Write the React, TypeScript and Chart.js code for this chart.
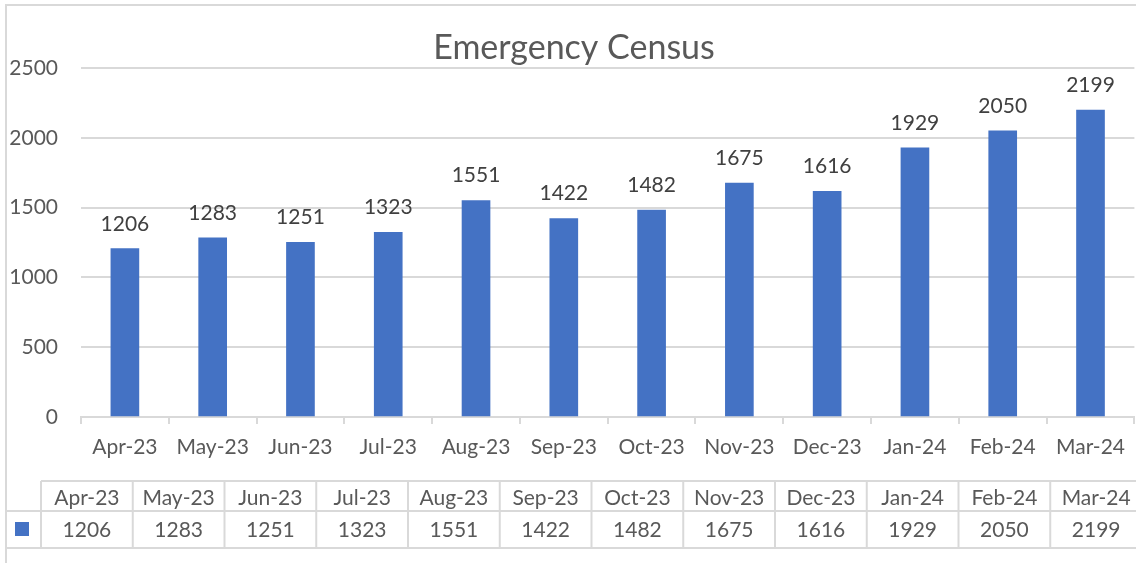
import React, { useEffect, useRef } from "react";
import { Chart, registerables } from "chart.js";

Chart.register(...registerables);

const categories = ["Apr-23", "May-23", "Jun-23", "Jul-23", "Aug-23", "Sep-23", "Oct-23", "Nov-23", "Dec-23", "Jan-24", "Feb-24", "Mar-24"];
const censusValues = [1206, 1283, 1251, 1323, 1551, 1422, 1482, 1675, 1616, 1929, 2050, 2199];
const yTicks = [0, 500, 1000, 1500, 2000, 2500];
const chartTitle = "Emergency Census";

const FONT = "Lato";
const TEXT = "#595959";
const LABEL = "#404040";
const GRID = "#d9d9d9";
const BAR = "#4472C4";
const FS = 21;

const framePlugin = {
  id: "frame",
  beforeDraw(chart: any) {
    const ctx = chart.ctx;
    ctx.save();
    ctx.fillStyle = "#ffffff";
    ctx.fillRect(0, 0, chart.width, chart.height);
    ctx.strokeStyle = GRID;
    ctx.lineWidth = 2;
    ctx.strokeRect(6, 5, chart.width + 40, chart.height + 40);
    ctx.restore();
  },
};

const titlePlugin = {
  id: "excelTitle",
  afterDraw(chart: any) {
    const ctx = chart.ctx;
    ctx.save();
    ctx.font = `34px ${FONT}`;
    ctx.fillStyle = TEXT;
    ctx.textAlign = "center";
    ctx.textBaseline = "alphabetic";
    ctx.fillText(chartTitle, (6 + chart.width + 6) / 2, 59);
    ctx.restore();
  },
};

const valueLabelPlugin = {
  id: "valueLabels",
  afterDatasetsDraw(chart: any) {
    const ctx = chart.ctx;
    const meta = chart.getDatasetMeta(0);
    const data = chart.data.datasets[0].data;
    ctx.save();
    ctx.font = `${FS}px ${FONT}`;
    ctx.fillStyle = LABEL;
    ctx.textAlign = "center";
    ctx.textBaseline = "alphabetic";
    meta.data.forEach((el: any, i: number) => {
      ctx.fillText(String(data[i]), el.x, el.y - 18);
    });
    ctx.restore();
  },
};

const tablePlugin = {
  id: "dataTable",
  afterDraw(chart: any) {
    const ctx = chart.ctx;
    const area = chart.chartArea;
    const left0 = 6;
    const keyRight = 41;
    const right = chart.width + 6;
    const headerTop = area.bottom + 64;
    const rowMid = area.bottom + 94;
    const bottom = area.bottom + 131;
    const n = categories.length;
    const colW = (right - keyRight) / n;
    ctx.save();
    ctx.strokeStyle = GRID;
    ctx.lineWidth = 2;
    ctx.beginPath();
    ctx.moveTo(keyRight, headerTop);
    ctx.lineTo(right, headerTop);
    ctx.moveTo(left0, rowMid);
    ctx.lineTo(right, rowMid);
    ctx.moveTo(left0, bottom);
    ctx.lineTo(right, bottom);
    for (let i = 0; i <= n; i++) {
      const x = keyRight + i * colW;
      ctx.moveTo(x, headerTop);
      ctx.lineTo(x, bottom);
    }
    ctx.stroke();

    ctx.font = `${FS}px ${FONT}`;
    ctx.fillStyle = TEXT;
    ctx.textAlign = "center";
    ctx.textBaseline = "alphabetic";
    for (let i = 0; i < n; i++) {
      const cx = keyRight + (i + 0.5) * colW;
      ctx.fillText(categories[i], cx, headerTop + 24);
      ctx.fillText(String(censusValues[i]), cx, rowMid + 26);
    }
    ctx.fillStyle = BAR;
    ctx.fillRect(15, rowMid + 11, 14, 14);
    ctx.restore();
  },
};

export default function App() {
  const ref = useRef<HTMLCanvasElement | null>(null);

  useEffect(() => {
    if (!ref.current) return;
    const chart = new Chart(ref.current, {
      type: "bar",
      data: {
        labels: categories,
        datasets: [
          {
            label: "Census",
            data: censusValues,
            backgroundColor: BAR,
            borderWidth: 0,
            barThickness: 28,
          },
        ],
      },
      options: {
        animation: false,
        responsive: false,
        devicePixelRatio: 1,
        layout: { padding: { top: 68, left: 0, right: 0, bottom: 0 } },
        plugins: {
          legend: { display: false },
          title: { display: false },
          tooltip: { enabled: false },
        },
        scales: {
          x: {
            ticks: {
              color: TEXT,
              font: { family: FONT, size: FS },
              padding: 11,
              maxRotation: 0,
              autoSkip: false,
            },
            grid: {
              drawOnChartArea: false,
              drawTicks: true,
              tickLength: 7,
              color: GRID,
              lineWidth: 2,
              offset: true,
            },
            border: { display: true, color: GRID, width: 2 },
            afterFit: (s: any) => {
              s.height = 146;
            },
          },
          y: {
            min: 0,
            max: 2500,
            afterBuildTicks: (s: any) => {
              s.ticks = yTicks.map((v) => ({ value: v }));
            },
            ticks: {
              color: TEXT,
              font: { family: FONT, size: FS },
              padding: 23,
              callback: (v: any) => String(v),
            },
            grid: { color: GRID, lineWidth: 2, drawTicks: false },
            border: { display: false },
            afterFit: (s: any) => {
              s.width = 81;
            },
          },
        },
      },
      plugins: [framePlugin, valueLabelPlugin, titlePlugin, tablePlugin],
    });
    return () => chart.destroy();
  }, []);

  return (
    <div style={{ position: "absolute", left: 0, top: 0, width: 1136, height: 563, background: "#fff" }}>
      <canvas ref={ref} width={1136} height={563} style={{ display: "block", width: 1136, height: 563 }} />
    </div>
  );
}
